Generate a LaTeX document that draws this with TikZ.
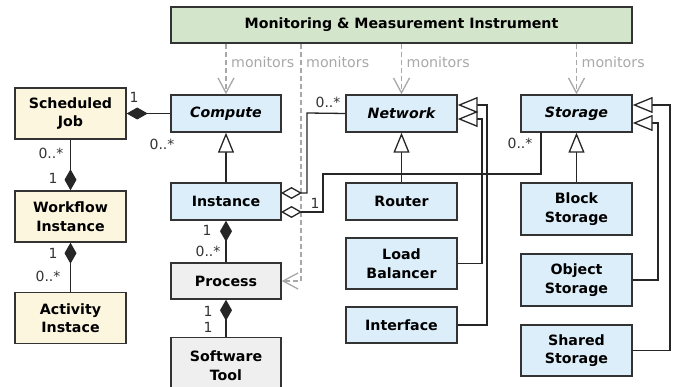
\documentclass[tikz,border=0pt]{standalone}
\usepackage{fontspec}
\setmainfont{DejaVu Sans}
\usetikzlibrary{arrows.meta}

\definecolor{monfill}{HTML}{D3E5CB}
\definecolor{cloudfill}{HTML}{DCEEFA}
\definecolor{jobfill}{HTML}{FDF6DF}
\definecolor{procfill}{HTML}{EFEFEF}
\definecolor{edgecol}{HTML}{333333}
\definecolor{depcol}{HTML}{A8A8A8}

\tikzset{
  cls/.style={draw=edgecol, line width=1.4pt, align=center, inner sep=0pt,
    font=\fontsize{14.2}{18.5}\selectfont\bfseries, text=black},
  cloud/.style={cls, fill=cloudfill},
  job/.style={cls, fill=jobfill},
  proc/.style={cls, fill=procfill},
  assoc/.style={draw=black!85, line width=1.3pt},
  compos/.style={assoc, {Diamond[length=21pt,width=12pt]}-},
  aggr/.style={assoc, {Diamond[open,length=21pt,width=12pt,fill=white]}-},
  gen/.style={assoc, -{Triangle[open,length=20pt,width=16pt,fill=white]}},
  dep/.style={draw=depcol, line width=1.3pt, dash pattern=on 5pt off 3pt,
    -{Straight Barb[length=15pt,width=16pt]}},
  deplabel/.style={text=depcol, anchor=west, inner sep=0pt,
    font=\fontsize{14.2}{17}\selectfont},
  mult/.style={text=edgecol, inner sep=0pt, font=\fontsize{14}{17}\selectfont}
}

\begin{document}
\begin{tikzpicture}[x=1pt, y=-1pt]
\useasboundingbox (0,0) rectangle (678,387);

% monitoring instrument
\node[cls, fill=monfill, minimum width=461pt, minimum height=36pt] (mon) at (401.5,25)
  {Monitoring \& Measurement Instrument};

% abstract cloud resources
\node[cloud, minimum width=110pt, minimum height=37pt] (compute) at (226,113.5) {\itshape Compute};
\node[cloud, minimum width=111pt, minimum height=37pt] (network) at (401.5,113.5) {\itshape Network};
\node[cloud, minimum width=111pt, minimum height=37pt] (storage) at (576.5,113.5) {\itshape Storage};

% concrete resources
\node[cloud, minimum width=110pt, minimum height=37pt] (instance) at (226,201.5) {Instance};
\node[cloud, minimum width=111pt, minimum height=37pt] (router) at (401.5,201.5) {Router};
\node[cloud, minimum width=111pt, minimum height=51pt] (lb) at (401.5,263.5) {Load\\Balancer};
\node[cloud, minimum width=111pt, minimum height=36pt] (iface) at (401.5,325) {Interface};
\node[cloud, minimum width=111pt, minimum height=52pt] (block) at (576.5,209) {Block\\Storage};
\node[cloud, minimum width=111pt, minimum height=52pt] (object) at (576.5,280) {Object\\Storage};
\node[cloud, minimum width=111pt, minimum height=51pt] (shared) at (576.5,350.5) {Shared\\Storage};

% workflow side
\node[job, minimum width=111pt, minimum height=51pt] (job) at (70.5,113.5) {Scheduled\\Job};
\node[job, minimum width=111pt, minimum height=51pt] (wf) at (70.5,216.5) {Workflow\\Instance};
\node[job, minimum width=111pt, minimum height=51pt] (act) at (70.5,318) {Activity\\Instace};

% processes
\node[proc, minimum width=110pt, minimum height=56pt, anchor=north] (tool) at (226,337) {Software\\Tool};
\node[proc, minimum width=110pt, minimum height=36pt] (process) at (226,281) {Process};

% monitoring dependencies
\coordinate (pbend) at (301,281);
\draw[dep] (mon.south -| compute) -- (compute.north);
\draw[dep] (mon.south -| pbend) -- (pbend) -- (process.east);
\draw[dep] (mon.south -| network) -- (network.north);
\draw[dep] (mon.south -| storage) -- (storage.north);
\node[deplabel] (lbl1) at (231,62) {monitors};
\node[deplabel] (lbl2) at (306,62) {monitors};
\node[deplabel] (lbl3) at (406.5,62) {monitors};
\node[deplabel] (lbl4) at (581.5,62) {monitors};

% compositions
\draw[compos] (job.east) -- (compute.west);
\node[mult] (m1) at (134,97) {1};
\node[mult] (m2) at (162,144) {0..*};

\draw[compos] (wf.north) -- (job.south);
\node[mult] (m3) at (51,153) {0..*};
\node[mult] (m4) at (53,178) {1};

\draw[compos] (wf.south) -- (act.north);
\node[mult] (m5) at (53,253) {1};
\node[mult] (m6) at (48,276) {0..*};

\draw[compos] (instance.south) -- (process.north);
\node[mult] (m7) at (207,230) {1};
\node[mult] (m8) at (208,251) {0..*};

\draw[compos] (process.south) -- (tool.north);
\node[mult] (m9) at (208,311) {1};
\node[mult] (m10) at (208,327) {1};

% aggregations from instance
\coordinate (ia) at (281,193);
\coordinate (ib) at (281,212);
\coordinate (sfoot) at (541,132);
\draw[aggr] (ia) -- (307,193) -- (307,113) -- (network.west);
\node[mult] (m11) at (328,102) {0..*};
\draw[aggr] (ib) -- (323,212) -- (323,174) -- (541,174) -- (sfoot);
\node[mult] (m12) at (315,203) {1};
\node[mult] (m13) at (520,143) {0..*};

% generalizations
\draw[gen] (instance.north) -- (compute.south);
\draw[gen] (router.north) -- (network.south);
\draw[gen] (lb.east) -- (482,263.5) -- (482,119) -- (network.east |- 0,119);
\draw[gen] (iface.east) -- (487,325) -- (487,105) -- (network.east |- 0,105);
\draw[gen] (block.north) -- (storage.south);
\draw[gen] (object.east) -- (658,280) -- (658,123) -- (storage.east |- 0,123);
\draw[gen] (shared.east) -- (670,350.5) -- (670,105) -- (storage.east |- 0,105);
\end{tikzpicture}
\end{document}
